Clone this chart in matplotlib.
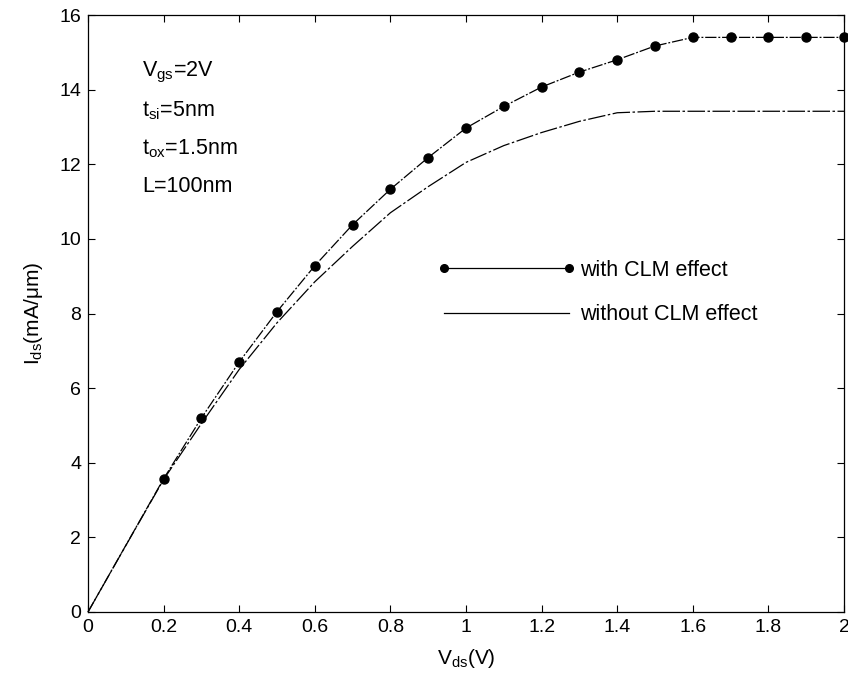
import matplotlib
matplotlib.use("Agg")
import matplotlib.pyplot as plt
from matplotlib.lines import Line2D

plt.rcParams['font.family'] = ['Liberation Sans', 'DejaVu Sans']
plt.rcParams['mathtext.fontset'] = 'custom'
plt.rcParams['mathtext.rm'] = 'Liberation Sans'
plt.rcParams['mathtext.it'] = 'Liberation Sans'
plt.rcParams['mathtext.default'] = 'regular'

# Drain current vs drain voltage
vds_clm = [0.0, 0.2, 0.3, 0.4, 0.5, 0.6, 0.7, 0.8, 0.9, 1.0,
           1.1, 1.2, 1.3, 1.4, 1.5, 1.6, 1.7, 1.8, 1.9, 2.0]
ids_clm = [0.0, 3.57, 5.2, 6.7, 8.05, 9.28, 10.38, 11.33, 12.18, 12.97,
           13.55, 14.07, 14.47, 14.8, 15.17, 15.4, 15.4, 15.4, 15.4, 15.4]

vds_noclm = [0.0, 0.1, 0.2, 0.3, 0.4, 0.5, 0.6, 0.7, 0.8, 0.9, 1.0,
             1.1, 1.2, 1.3, 1.4, 1.5, 1.6, 1.7, 1.8, 1.9, 2.0]
ids_noclm = [0.0, 1.78, 3.55, 5.05, 6.5, 7.75, 8.85, 9.8, 10.7, 11.4, 12.05,
             12.5, 12.85, 13.15, 13.38, 13.42, 13.42, 13.42, 13.42, 13.42, 13.42]

xticks = [0, 0.2, 0.4, 0.6, 0.8, 1.0, 1.2, 1.4, 1.6, 1.8, 2.0]
xticklabels = ['0', '0.2', '0.4', '0.6', '0.8', '1', '1.2', '1.4', '1.6', '1.8', '2']
yticks = [0, 2, 4, 6, 8, 10, 12, 14, 16]

labels = ['with CLM effect', 'without CLM effect']
params = [r'$V_{gs}$=2V', r'$t_{si}$=5nm', r'$t_{ox}$=1.5nm', 'L=100nm']

fig = plt.figure(figsize=(8.48, 6.84), dpi=100)
ax = fig.add_axes([88 / 848, 72 / 684, 756 / 848, 597 / 684])

ax.plot(vds_clm, ids_clm, color='black', lw=0.9,
        linestyle=(0, (9, 1.5, 1.5, 1.5)),
        marker='o', markersize=6.5, markevery=list(range(1, len(vds_clm))),
        clip_on=False)
ax.plot(vds_noclm, ids_noclm, color='black', lw=0.9,
        linestyle=(0, (14, 2, 2, 2)), clip_on=False)

ax.set_xlim(0, 2)
ax.set_ylim(0, 16)
ax.set_xticks(xticks)
ax.set_xticklabels(xticklabels)
ax.set_yticks(yticks)
ax.tick_params(direction='in', length=5, width=0.8, top=True, right=True,
               labelsize=14, pad=5)
for s in ax.spines.values():
    s.set_linewidth(0.9)

ax.set_xlabel(r'$V_{ds}$(V)', fontsize=15, labelpad=8)
ax.set_ylabel(r'$I_{ds}$(mA/$\mu$m)', fontsize=15, labelpad=10)

for i, t in enumerate(params):
    ax.text(0.072, 0.903 - i * 0.0637, t, transform=ax.transAxes,
            fontsize=15.5, va='center', ha='left')

handles = [
    Line2D([], [], color='black', lw=0.9, marker='o', markersize=5.5),
    Line2D([], [], color='black', lw=0.9),
]
ax.legend(handles, labels, loc='upper left', bbox_to_anchor=(0.462, 0.59),
          frameon=False, fontsize=15.5, numpoints=2, handlelength=6.4,
          handletextpad=0.25, labelspacing=1.1, borderpad=0, borderaxespad=0)

fig.savefig('out.png', dpi=100)
